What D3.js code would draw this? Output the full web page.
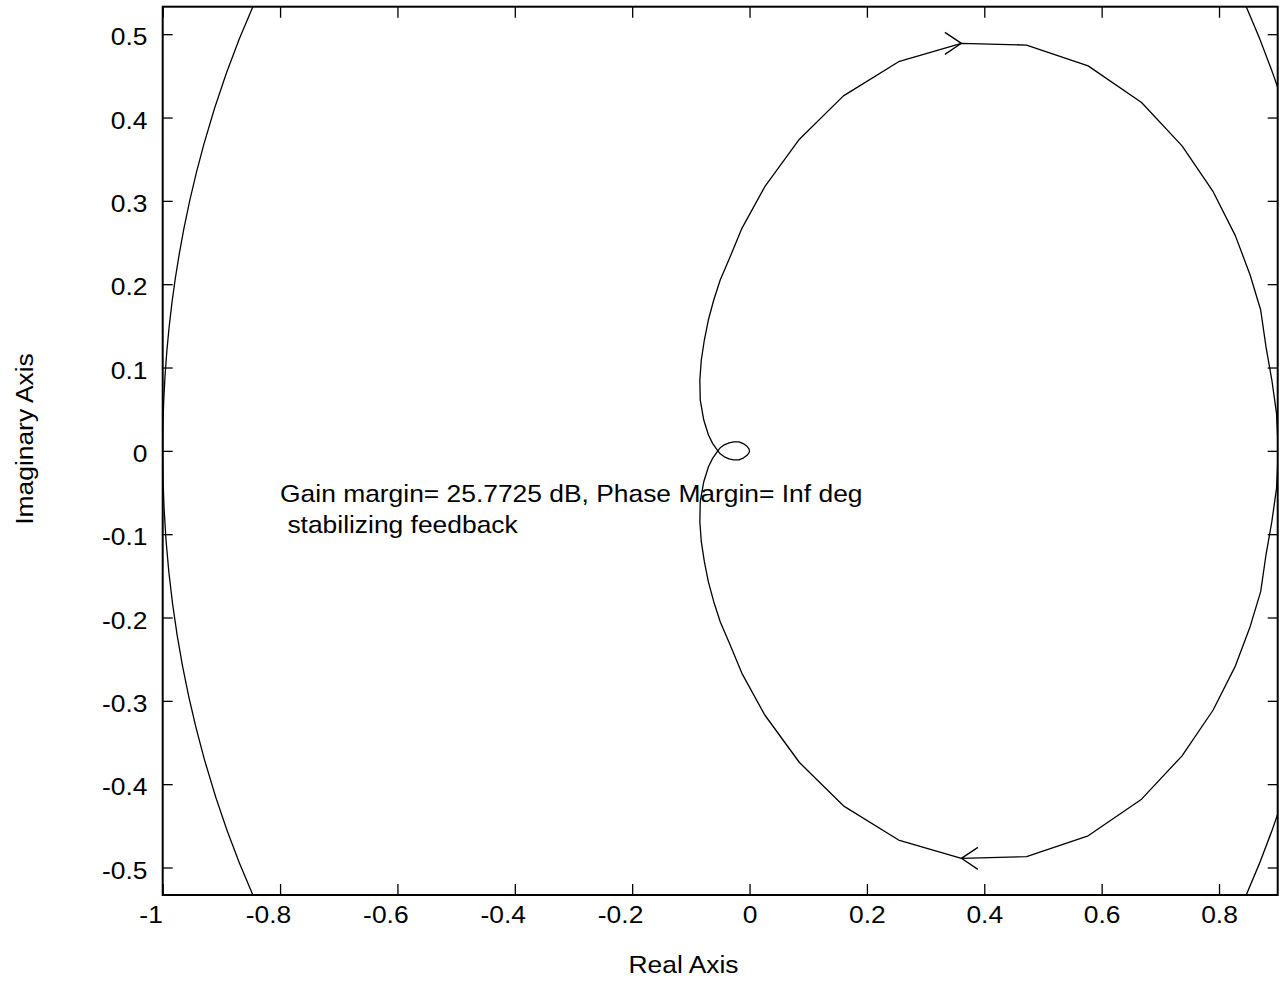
<!DOCTYPE html>
<html>
<head>
<meta charset="utf-8">
<script src="https://cdn.jsdelivr.net/npm/d3@7"></script>
<style>
  body { margin: 0; background: #fff; }
</style>
</head>
<body>
<script>
// nyquist curve. re is shared, im for the upper and lower branch
var nyqRe = [0.901, 0.898, 0.890, 0.880, 0.871, 0.853, 0.828, 0.790, 0.737, 0.668,
             0.577, 0.472, 0.361, 0.254, 0.160, 0.085, 0.026, -0.013, -0.033, -0.050,
             -0.061, -0.0702, -0.077, -0.0822, -0.0847, -0.084, -0.078, -0.070, -0.063, -0.054,
             -0.050, -0.043, -0.035, -0.027, -0.018, -0.010, -0.0043, -0.001, 0];
var nyqImUpper = [0, 0.045, 0.085, 0.125, 0.169, 0.211, 0.258, 0.311, 0.366, 0.418,
                  0.462, 0.487, 0.489, 0.467, 0.426, 0.374, 0.317, 0.267, 0.233, 0.205,
                  0.181, 0.157, 0.133, 0.109, 0.085, 0.061, 0.037, 0.019, 0.009, 0,
                  -0.0036, -0.0072, -0.0096, -0.0108, -0.0108, -0.0084, -0.0054, -0.0024, 0];
var nyqImLower = [0, -0.045, -0.085, -0.125, -0.169, -0.211, -0.258, -0.311, -0.366, -0.418,
                  -0.462, -0.487, -0.489, -0.467, -0.426, -0.374, -0.317, -0.267, -0.233, -0.205,
                  -0.181, -0.157, -0.133, -0.109, -0.085, -0.061, -0.037, -0.019, -0.009, 0,
                  0.0036, 0.0072, 0.0096, 0.0108, 0.0108, 0.0084, 0.0054, 0.0024, 0];

// direction arrows on the curve: position and which way they point (+1 right, -1 left)
var arrowRe = [0.361, 0.361];
var arrowIm = [0.489, -0.489];
var arrowDir = [1, -1];

// unit circle
var circleCenter = [0, 0];
var circleRadius = 1;

var xDomain = [-1, 0.9];
var yDomain = [-0.533, 0.533];
var xTicks = [-1, -0.8, -0.6, -0.4, -0.2, 0, 0.2, 0.4, 0.6, 0.8];
var xTickLabels = ["-1", "-0.8", "-0.6", "-0.4", "-0.2", "0", "0.2", "0.4", "0.6", "0.8"];
var yTicks = [-0.5, -0.4, -0.3, -0.2, -0.1, 0, 0.1, 0.2, 0.3, 0.4, 0.5];
var yTickLabels = ["-0.5", "-0.4", "-0.3", "-0.2", "-0.1", "0", "0.1", "0.2", "0.3", "0.4", "0.5"];

var annotLines = ["Gain margin= 25.7725 dB, Phase Margin= Inf deg", " stabilizing feedback"];
var annotPos = [-0.8, -0.061];

var FONT = "'Liberation Sans', Arial, Helvetica, sans-serif";
var SX = "scale(1.1,1)";   // text in the picture is a bit wide

var width = 1280, height = 982;
// plot box (don't call these top/left: window.top is taken)
var pLeft = 162.7, pRight = 1277.7, pTop = 6.7, pBottom = 895;

var svg = d3.select("body").append("svg")
    .attr("width", width)
    .attr("height", height)
    .style("background-color", "white");

var x = d3.scaleLinear().domain(xDomain).range([pLeft, pRight]);
var y = d3.scaleLinear().domain(yDomain).range([pBottom, pTop]);

svg.append("clipPath").attr("id", "plotclip")
  .append("rect")
    .attr("x", pLeft).attr("y", pTop)
    .attr("width", pRight - pLeft).attr("height", pBottom - pTop);

var plot = svg.append("g").attr("clip-path", "url(#plotclip)");

// unit circle (an ellipse on screen since the axes are not equal)
plot.append("ellipse")
    .attr("cx", x(circleCenter[0]))
    .attr("cy", y(circleCenter[1]))
    .attr("rx", x(circleRadius) - x(0))
    .attr("ry", y(0) - y(circleRadius))
    .attr("fill", "none")
    .attr("stroke", "black")
    .attr("stroke-width", 1.3);

var line = d3.line()
    .x(function(d){ return x(d[0]); })
    .y(function(d){ return y(d[1]); });

var upper = nyqRe.map(function(r, i){ return [r, nyqImUpper[i]]; });
var lower = nyqRe.map(function(r, i){ return [r, nyqImLower[i]]; });

plot.selectAll("path.nyq")
    .data([upper, lower])
    .enter().append("path")
    .attr("class", "nyq")
    .attr("d", line)
    .attr("fill", "none")
    .attr("stroke", "black")
    .attr("stroke-width", 1.3)
    .attr("stroke-linejoin", "round");

// arrow heads
plot.selectAll("path.arrow")
    .data(arrowRe.map(function(r, i){ return {re: r, im: arrowIm[i], dir: arrowDir[i]}; }))
    .enter().append("path")
    .attr("class", "arrow")
    .attr("d", function(d){
        var tx = x(d.re), ty = y(d.im), bx = tx - d.dir * 16.5;
        return "M" + bx + "," + (ty - 11) + "L" + tx + "," + ty + "L" + bx + "," + (ty + 11);
    })
    .attr("fill", "none")
    .attr("stroke", "black")
    .attr("stroke-width", 1.3);

// axes, ticks pointing inwards on all four sides
function styleAxis(g) {
    g.select(".domain").remove();
    g.attr("font-family", FONT).attr("font-size", 24).attr("color", "#000");
    g.selectAll(".tick line").attr("stroke-width", 1.3);
}

svg.append("g")
    .attr("transform", "translate(0," + pBottom + ")")
    .call(d3.axisBottom(x).tickValues(xTicks).tickSizeInner(-11).tickSizeOuter(0).tickPadding(11)
            .tickFormat(function(d, i){ return xTickLabels[i]; }))
    .call(styleAxis)
    .selectAll("text")
    .attr("x", function(d){ return d < 0 ? -11 : 0; })
    .attr("transform", SX);

svg.append("g")
    .attr("transform", "translate(0," + pTop + ")")
    .call(d3.axisTop(x).tickValues(xTicks).tickSizeInner(-11).tickSizeOuter(0).tickFormat(""))
    .call(styleAxis);

svg.append("g")
    .attr("transform", "translate(" + pLeft + ",0)")
    .call(d3.axisLeft(y).tickValues(yTicks).tickSizeInner(-10).tickSizeOuter(0)
            .tickFormat(function(d, i){ return yTickLabels[i]; }))
    .call(styleAxis)
    .selectAll("text")
    .attr("x", -13.8)
    .attr("dy", "0.44em")
    .attr("transform", SX);

svg.append("g")
    .attr("transform", "translate(" + pRight + ",0)")
    .call(d3.axisRight(y).tickValues(yTicks).tickSizeInner(-10).tickSizeOuter(0).tickFormat(""))
    .call(styleAxis);

// frame
svg.append("rect")
    .attr("x", pLeft).attr("y", pTop)
    .attr("width", pRight - pLeft).attr("height", pBottom - pTop)
    .attr("fill", "none")
    .attr("stroke", "black")
    .attr("stroke-width", 2);

// annotation
svg.selectAll("text.annot")
    .data(annotLines)
    .enter().append("text")
    .attr("class", "annot")
    .attr("xml:space", "preserve")
    .style("white-space", "pre")
    .attr("transform", function(d, i){
        return "translate(" + x(annotPos[0]) + "," + (y(annotPos[1]) + i * 31) + ") " + SX;
    })
    .attr("font-family", FONT)
    .attr("font-size", 24)
    .text(function(d){ return d; });

// axis titles
svg.append("text")
    .attr("transform", "translate(683.5,973) " + SX)
    .attr("text-anchor", "middle")
    .attr("font-family", FONT)
    .attr("font-size", 24)
    .text("Real Axis");

svg.append("text")
    .attr("transform", "translate(33,439) rotate(-90) " + SX)
    .attr("text-anchor", "middle")
    .attr("font-family", FONT)
    .attr("font-size", 24)
    .text("Imaginary Axis");
</script>
</body>
</html>
